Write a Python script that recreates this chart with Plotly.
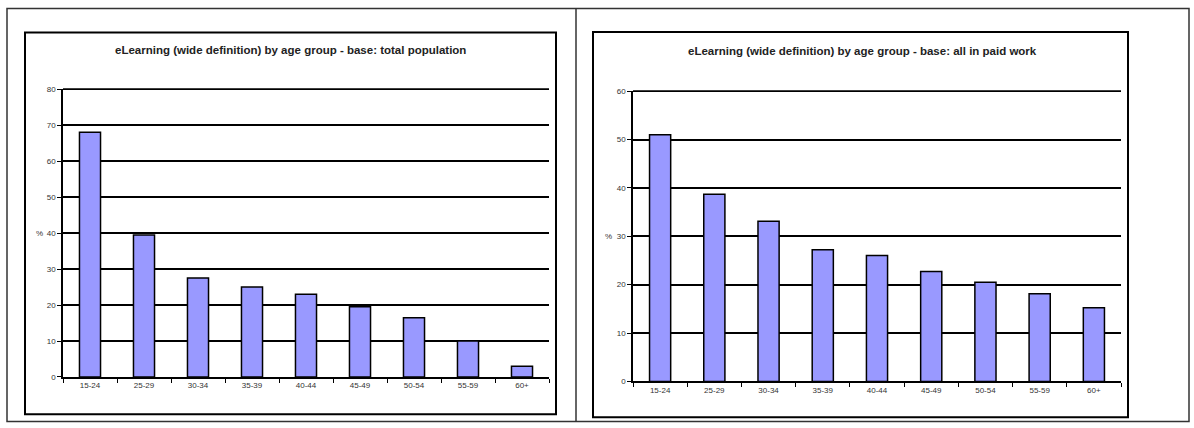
import plotly.graph_objects as go

W, H = 1194, 428

categories = ["15-24", "25-29", "30-34", "35-39", "40-44", "45-49", "50-54", "55-59", "60+"]
total_population = [68, 39.5, 27.5, 25, 23, 19.5, 16.5, 10, 3]
paid_work = [51, 38.7, 33.1, 27.2, 26, 22.7, 20.5, 18.1, 15.2]
left_ticks = [0, 10, 20, 30, 40, 50, 60, 70, 80]
right_ticks = [0, 10, 20, 30, 40, 50, 60]
title_left = "eLearning (wide definition) by age group - base: total population"
title_right = "eLearning (wide definition) by age group - base: all in paid work"


def px(x):
    return x / W


def py(y):
    return 1 - y / H


L_X = [px(63), px(549)]
L_Y = [py(381), py(87)]
R_X = [px(633), px(1121)]
R_Y = [py(385.5), py(89)]

fig = go.Figure()
bar_style = dict(marker=dict(color="#9999FF", line=dict(color="black", width=1.5)), showlegend=False,
                 hoverinfo="x+y")
fig.add_trace(go.Bar(x=categories, y=total_population, xaxis="x", yaxis="y", **bar_style))
fig.add_trace(go.Bar(x=categories, y=paid_work, xaxis="x2", yaxis="y2", **bar_style))

tickfont = dict(family="Liberation Sans, Arial, sans-serif", size=8, color="#333")
xcommon = dict(type="category", showline=True, linecolor="black", linewidth=1.5, ticks="outside",
               tickson="boundaries", ticklen=4, tickcolor="black", tickwidth=1.2, showgrid=False,
               tickfont=tickfont, range=[-0.5, 8.5], fixedrange=True)
ycommon = dict(showline=True, linecolor="black", linewidth=1.5, ticks="outside", ticklen=4,
               tickcolor="black", tickwidth=1.2, showgrid=True, gridcolor="black", gridwidth=1.8,
               zeroline=False, tickfont=tickfont, fixedrange=True)

fig.update_layout(
    width=W, height=H, margin=dict(l=0, r=0, t=0, b=0),
    paper_bgcolor="white", plot_bgcolor="white",
    bargap=0.61,
    xaxis=dict(domain=L_X, anchor="y", **xcommon),
    yaxis=dict(domain=L_Y, anchor="x", range=[0, 80], tickvals=left_ticks, **ycommon),
    xaxis2=dict(domain=R_X, anchor="y2", **xcommon),
    yaxis2=dict(domain=R_Y, anchor="x2", range=[0, 60], tickvals=right_ticks, **ycommon),
)

shapes = []
# outer table
outer = dict(type="rect", xref="paper", yref="paper", line=dict(color="#333", width=1.5))
shapes.append(dict(outer, x0=px(7), x1=px(1189), y0=py(426.5), y1=py(4.5)))
shapes.append(dict(type="line", xref="paper", yref="paper", x0=px(576), x1=px(576), y0=py(426.5), y1=py(4.5),
                   line=dict(color="#333", width=1.5)))
# chart frames
frame = dict(type="rect", xref="paper", yref="paper", line=dict(color="black", width=2))
shapes.append(dict(frame, x0=px(25), x1=px(556), y0=py(419), y1=py(29)))
shapes.append(dict(frame, x0=px(593), x1=px(1128), y0=py(422), y1=py(28.5)))
# top gridlines (at the axis maximum = top of each plot domain)
shapes.append(dict(type="line", xref="paper", yref="paper", x0=L_X[0], x1=L_X[1], y0=L_Y[1], y1=L_Y[1],
                   line=dict(color="black", width=1.8), layer="above"))
shapes.append(dict(type="line", xref="paper", yref="paper", x0=R_X[0], x1=R_X[1], y0=R_Y[1], y1=R_Y[1],
                   line=dict(color="black", width=1.8), layer="above"))
fig.update_layout(shapes=shapes)

titlefont = dict(family="Liberation Sans, Arial, sans-serif", size=11.5, color="#222")
ann = []
ann.append(dict(text="<b>" + title_left + "</b>", x=px(290.5), y=py(47), xref="paper", yref="paper",
                showarrow=False, font=titlefont, xanchor="center", yanchor="middle"))
ann.append(dict(text="<b>" + title_right + "</b>", x=px(862), y=py(48), xref="paper", yref="paper",
                showarrow=False, font=titlefont, xanchor="center", yanchor="middle"))
ann.append(dict(text="%", x=px(39), y=py(234), xref="paper", yref="paper", showarrow=False,
                font=tickfont, xanchor="center", yanchor="middle"))
ann.append(dict(text="%", x=px(608), y=py(237), xref="paper", yref="paper", showarrow=False,
                font=tickfont, xanchor="center", yanchor="middle"))
fig.update_layout(annotations=ann)

fig.write_html("out.html")
